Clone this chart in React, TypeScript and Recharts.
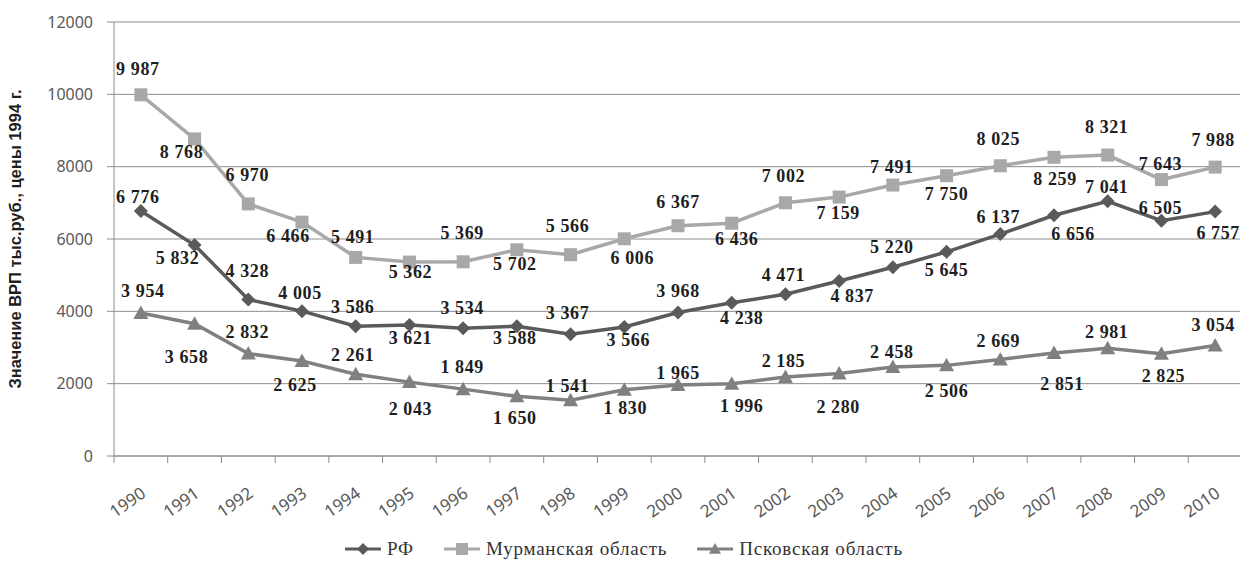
import { LineChart, Line, XAxis, YAxis, CartesianGrid, LabelList } from "recharts";

const years = [
  "1990", "1991", "1992", "1993", "1994", "1995", "1996", "1997", "1998", "1999", "2000",
  "2001", "2002", "2003", "2004", "2005", "2006", "2007", "2008", "2009", "2010",
];
const rf = [
  6776, 5832, 4328, 4005, 3586, 3621, 3534, 3588, 3367, 3566, 3968,
  4238, 4471, 4837, 5220, 5645, 6137, 6656, 7041, 6505, 6757,
];
const murmansk = [
  9987, 8768, 6970, 6466, 5491, 5362, 5369, 5702, 5566, 6006, 6367,
  6436, 7002, 7159, 7491, 7750, 8025, 8259, 8321, 7643, 7988,
];
const pskov = [
  3954, 3658, 2832, 2625, 2261, 2043, 1849, 1650, 1541, 1830, 1965,
  1996, 2185, 2280, 2458, 2506, 2669, 2851, 2981, 2825, 3054,
];
const yTicks = [0, 2000, 4000, 6000, 8000, 10000, 12000];

// label nudges relative to the point (dx, dy), as placed in the original
const rfLabelOff = [
  [-3, -14], [-17, 13], [-1, -28], [-2, -18], [-3, -19], [1, 13], [-1, -20], [-2, 12], [-3, -21], [4, 13], [0, -21],
  [10, 15], [-2, -19], [13, 15], [-1, -20], [0, 18], [-2, -17], [19, 19], [-1, -14], [-1, -13], [3, 21],
];
const murLabelOff = [
  [-3, -26], [-13, 13], [-1, -29], [-14, 14], [-3, -20], [1, 10], [-1, -29], [-2, 14], [-3, -29], [8, 19], [0, -24],
  [5, 16], [-2, -27], [-1, 16], [-1, -18], [0, 18], [-2, -27], [1, 22], [-1, -28], [-1, -16], [-2, -27],
];
const pskLabelOff = [
  [2, -22], [-8, 33], [-1, -22], [-7, 24], [-3, -19], [1, 27], [-1, -22], [-2, 22], [-3, -14], [1, 18], [0, -12],
  [10, 22], [-2, -16], [-1, 33], [-1, -15], [0, 26], [-2, -18], [8, 31], [-1, -16], [2, 22], [-2, -21],
];

const data = years.map((year, i) => ({ i, year, rf: rf[i], mur: murmansk[i], psk: pskov[i] }));
const boundaries = [...years.map((_, i) => i - 0.5), years.length - 0.5];
const centers = years.map((_, i) => i);

const C_RF = "#5a5a5a";
const C_MUR = "#a8a8a8";
const C_PSK = "#808080";
const GRID = "#8c8c8c";
const TICK_FONT = "'Noto Sans', sans-serif";
const SERIF = "'Liberation Serif', 'Times New Roman', serif";

const fmt = (v: number) => {
  const s = String(v);
  return s.length > 3 ? s.slice(0, s.length - 3) + " " + s.slice(-3) : s;
};

const Diamond = ({ cx, cy, fill, r = 7 }: any) =>
  cx == null ? null : (
    <polygon points={`${cx},${cy - r} ${cx + r},${cy} ${cx},${cy + r} ${cx - r},${cy}`} fill={fill} />
  );
const Square = ({ cx, cy, fill, r = 6.5 }: any) =>
  cx == null ? null : <rect x={cx - r} y={cy - r} width={r * 2} height={r * 2} fill={fill} />;
const Triangle = ({ cx, cy, fill, r = 7.5 }: any) =>
  cx == null ? null : (
    <polygon points={`${cx},${cy - r} ${cx + r},${cy + r * 0.8} ${cx - r},${cy + r * 0.8}`} fill={fill} />
  );

const makeLabel = (offsets: number[][]) => (props: any) => {
  const { index, value } = props;
  const x = props.viewBox?.x ?? props.x;
  const y = props.viewBox?.y ?? props.y;
  if (x == null || y == null) return null;
  const [dx, dy] = offsets[index] || [0, -16];
  return (
    <text
      x={x + dx}
      y={y + dy}
      textAnchor="middle"
      dominantBaseline="central"
      fontFamily={SERIF}
      fontWeight="bold"
      fontSize={18}
      letterSpacing={0.6}
      fill="#1e1e1e"
    >
      {fmt(value)}
    </text>
  );
};

const YearTick = ({ x, y, payload }: any) => (
  <text
    transform={`translate(${x + 6},${y + 39}) rotate(-35)`}
    textAnchor="end"
    fontFamily={TICK_FONT}
    fontSize={17}
    fill="#595959"
  >
    {years[payload.value]}
  </text>
);

const YLabel = ({ viewBox }: any) => {
  const cy = viewBox ? viewBox.y + viewBox.height / 2 : 240;
  return (
    <text
      transform={`translate(15,${cy}) rotate(-90)`}
      textAnchor="middle"
      dominantBaseline="central"
      fontFamily="'Liberation Sans', Arial, sans-serif"
      fontWeight="bold"
      fontSize={16.5}
      fill="#1e1e1e"
    >
      Значение ВРП тыс.руб., цены 1994 г.
    </text>
  );
};

const LegendIcon = ({ color, Marker }: any) => (
  <svg width={36} height={16} style={{ marginRight: 6 }}>
    <line x1={0} y1={8} x2={36} y2={8} stroke={color} strokeWidth={3} />
    <Marker cx={18} cy={8} fill={color} r={6} />
  </svg>
);

const legendItems = [
  { name: "РФ", color: C_RF, Marker: Diamond },
  { name: "Мурманская область", color: C_MUR, Marker: Square },
  { name: "Псковская область", color: C_PSK, Marker: Triangle },
];

export default function App() {
  return (
    <div style={{ position: "relative", width: 1248, height: 568, margin: -8, background: "#fff" }}>
      <LineChart width={1248} height={568} data={data} margin={{ top: 22, right: 6, bottom: 52, left: 0 }}>
        <CartesianGrid vertical={false} stroke={GRID} strokeWidth={1} />
        <XAxis
          xAxisId="frame"
          dataKey="i"
          type="number"
          domain={[-0.5, years.length - 0.5]}
          ticks={boundaries}
          interval={0}
          height={1}
          tickSize={7}
          tickFormatter={() => ""}
          stroke={GRID}
        />
        <XAxis
          xAxisId="years"
          dataKey="i"
          type="number"
          domain={[-0.5, years.length - 0.5]}
          ticks={centers}
          interval={0}
          height={59}
          axisLine={false}
          tickLine={false}
          tickSize={0}
          tickMargin={0}
          tick={<YearTick />}
        />
        <YAxis
          width={114}
          domain={[0, 12000]}
          ticks={yTicks}
          interval={0}
          tickSize={7}
          tickMargin={14}
          stroke={GRID}
          tick={{ fontFamily: TICK_FONT, fontSize: 16, fill: "#595959" }}
          label={<YLabel />}
        />
        <Line
          xAxisId="years"
          dataKey="mur"
          stroke={C_MUR}
          strokeWidth={3.5}
          dot={(p: any) => <Square key={`m${p.index}`} cx={p.cx} cy={p.cy} fill={C_MUR} />}
          activeDot={false}
          isAnimationActive={false}
        >
          <LabelList dataKey="mur" content={makeLabel(murLabelOff)} />
        </Line>
        <Line
          xAxisId="years"
          dataKey="rf"
          stroke={C_RF}
          strokeWidth={3.5}
          dot={(p: any) => <Diamond key={`r${p.index}`} cx={p.cx} cy={p.cy} fill={C_RF} />}
          activeDot={false}
          isAnimationActive={false}
        >
          <LabelList dataKey="rf" content={makeLabel(rfLabelOff)} />
        </Line>
        <Line
          xAxisId="years"
          dataKey="psk"
          stroke={C_PSK}
          strokeWidth={3.5}
          dot={(p: any) => <Triangle key={`p${p.index}`} cx={p.cx} cy={p.cy} fill={C_PSK} />}
          activeDot={false}
          isAnimationActive={false}
        >
          <LabelList dataKey="psk" content={makeLabel(pskLabelOff)} />
        </Line>
      </LineChart>
      <div
        style={{
          position: "absolute",
          left: 0,
          top: 538,
          width: 1248,
          display: "flex",
          justifyContent: "center",
          gap: 30,
          fontFamily: SERIF,
          fontSize: 19,
          letterSpacing: 0.8,
          color: "#333",
          lineHeight: "22px",
        }}
      >
        {legendItems.map((it) => (
          <div key={it.name} style={{ display: "flex", alignItems: "center" }}>
            <LegendIcon color={it.color} Marker={it.Marker} />
            <span>{it.name}</span>
          </div>
        ))}
      </div>
    </div>
  );
}
